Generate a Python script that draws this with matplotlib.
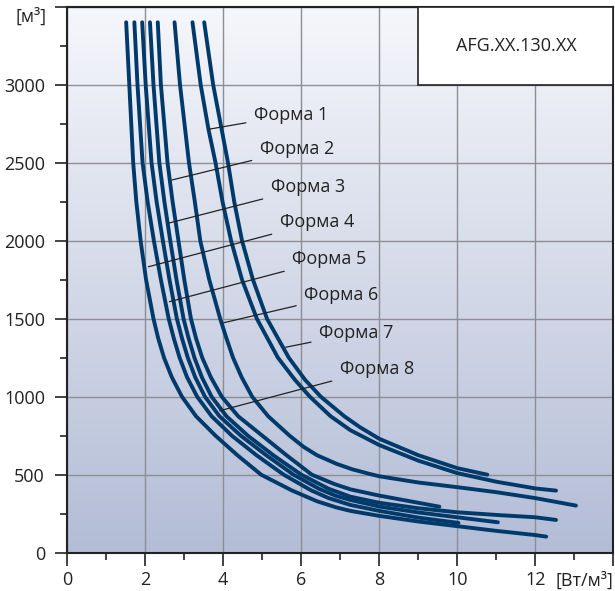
import numpy as np
import matplotlib
matplotlib.use('Agg')
import matplotlib.pyplot as plt
from matplotlib.ticker import MultipleLocator

plt.rcParams['font.family'] = ['Open Sans', 'DejaVu Sans']

# curves: x = [Вт/м3], y = [м3]
forma1_x = [3.21, 3.42, 3.62, 3.80, 3.98, 4.2, 4.48, 4.86, 5.4, 5.84, 6.22, 6.75, 7.26,
            8.0, 9.0, 10.0, 11.0, 12.0, 12.53]
forma1_y = [3400, 3000, 2714, 2500, 2250, 2000, 1750, 1500, 1250, 1107, 1000, 875, 785,
            690, 590, 510, 455, 412, 398]
forma2_x = [2.32, 2.40, 2.57, 2.70, 2.85, 3.0, 3.17, 3.30, 3.46, 3.68, 3.96, 4.38, 5.0,
            5.62, 6.27, 6.85, 7.26, 8.0, 9.0, 9.54]
forma2_y = [3400, 3000, 2500, 2250, 2000, 1750, 1500, 1375, 1250, 1125, 1000, 875, 750,
            625, 500, 440, 406, 366, 320, 295]
forma3_x = [2.12, 2.21, 2.36, 2.49, 2.64, 2.80, 2.98, 3.11, 3.26, 3.45, 3.70, 4.08, 4.63,
            5.28, 6.0, 6.7, 7.26, 8.0, 9.0, 10.0, 11.0, 12.0, 12.53]
forma3_y = [3400, 3000, 2500, 2250, 2000, 1750, 1500, 1375, 1250, 1125, 1000, 875, 750,
            625, 500, 410, 359, 320, 285, 259, 242, 227, 210]
forma4_x = [1.51, 1.59, 1.69, 1.77, 1.88, 2.02, 2.21, 2.33, 2.48, 2.68, 2.94, 3.3, 3.8,
            4.36, 4.97, 5.75, 6.4, 6.9, 7.26, 8.0, 9.0, 10.0, 11.0, 12.0, 12.28]
forma4_y = [3400, 3000, 2500, 2250, 2000, 1750, 1500, 1375, 1250, 1125, 1000, 875, 750,
            625, 500, 400, 330, 290, 268, 236, 200, 170, 140, 113, 103]
forma5_x = [1.72, 1.80, 1.93, 2.06, 2.22, 2.40, 2.60, 2.73, 2.88, 3.07, 3.33, 3.7, 4.22,
            4.85, 5.55, 6.25, 6.7, 7.26, 8.0, 9.0, 10.03]
forma5_y = [3400, 3000, 2500, 2250, 2000, 1750, 1500, 1375, 1250, 1125, 1000, 875, 750,
            625, 500, 400, 350, 306, 268, 225, 191]
forma6_x = [2.75, 2.89, 3.12, 3.27, 3.41, 3.64, 3.92, 4.08, 4.25, 4.47, 4.74, 5.15, 5.7,
            6.05, 6.4, 6.9, 7.3, 7.75, 8.0, 9.0, 10.0, 11.0, 12.0, 13.04]
forma6_y = [3400, 3000, 2500, 2250, 2000, 1750, 1500, 1375, 1250, 1125, 1000, 875, 750,
            680, 625, 570, 535, 505, 490, 450, 420, 388, 350, 302]
forma7_x = [3.51, 3.74, 4.12, 4.28, 4.48, 4.76, 5.12, 5.68, 6.1, 6.5, 7.1, 7.5, 8.0,
            9.0, 10.0, 10.77]
forma7_y = [3400, 3000, 2500, 2250, 2000, 1750, 1500, 1250, 1107, 1000, 875, 805, 730,
            625, 542, 500]
forma8_x = [1.92, 2.01, 2.16, 2.29, 2.45, 2.62, 2.81, 2.94, 3.09, 3.28, 3.53, 3.9, 4.45,
            5.1, 5.8, 6.45, 6.88, 7.26, 8.0, 9.0, 10.0, 11.04]
forma8_y = [3400, 3000, 2500, 2250, 2000, 1750, 1500, 1375, 1250, 1125, 1000, 875, 750,
            625, 500, 410, 365, 338, 296, 258, 227, 195]

curves = [(forma1_x, forma1_y), (forma2_x, forma2_y), (forma3_x, forma3_y),
          (forma4_x, forma4_y), (forma5_x, forma5_y), (forma6_x, forma6_y),
          (forma7_x, forma7_y), (forma8_x, forma8_y)]
labels = ['Форма 1', 'Форма 2', 'Форма 3', 'Форма 4',
          'Форма 5', 'Форма 6', 'Форма 7', 'Форма 8']

# where each leader touches its curve, and where the label sits
leader_xy = [(3.62, 2714), (2.68, 2389), (2.59, 2112), (2.08, 1833),
             (2.62, 1609), (4.01, 1474), (5.60, 1317), (3.91, 910)]
label_xy = [(4.79, 2806), (4.94, 2585), (5.22, 2342), (5.45, 2118),
            (5.77, 1881), (6.08, 1651), (6.46, 1408), (6.99, 1177)]

fig = plt.figure(figsize=(6.15, 5.91), dpi=100)
ax = fig.add_axes([0.1094, 0.0648, 0.8879, 0.9239])
ax.set_xlim(0, 14)
ax.set_ylim(0, 3500)

# background gradient
grad = np.linspace(0, 1, 256).reshape(-1, 1)
top = np.array([0.965, 0.968, 0.985])
bot = np.array([0.70, 0.74, 0.84])
img = top + (bot - top) * grad[:, :, None]
ax.imshow(img, extent=[0, 14, 0, 3500], origin='upper', aspect='auto', zorder=0)

ax.xaxis.set_major_locator(MultipleLocator(2))
ax.xaxis.set_minor_locator(MultipleLocator(1))
ax.yaxis.set_major_locator(MultipleLocator(500))
ax.yaxis.set_minor_locator(MultipleLocator(250))
ax.grid(True, which='major', color='#8c8e94', linewidth=1.0, zorder=1)
ax.set_axisbelow(True)

ax.tick_params(which='major', direction='out', length=9, width=1.2, color='#222222',
               labelsize=13, pad=4, labelcolor='#222222')
ax.tick_params(axis='y', which='major', pad=7)
ax.tick_params(which='minor', direction='out', length=5, width=1.2, color='#222222')
ax.set_xticks(range(0, 15, 2))
ax.set_xticklabels(['0', '2', '4', '6', '8', '10', '12', ''])
ax.set_yticks(range(0, 3501, 500))
ax.set_yticklabels(['0', '500', '1000', '1500', '2000', '2500', '3000', ''])
for s in ax.spines.values():
    s.set_linewidth(1.5)
    s.set_color('#222222')

for (xs, ys) in curves:
    ax.plot(xs, ys, color='#003a6b', linewidth=2.8, solid_capstyle='round',
            solid_joinstyle='round', zorder=3)

for lab, (cx, cy), (tx, ty) in zip(labels, leader_xy, label_xy):
    ax.annotate(lab, xy=(cx, cy), xytext=(tx, ty), fontsize=13, color='#222222',
                ha='left', va='center',
                arrowprops=dict(arrowstyle='-', color='#222222', linewidth=0.9,
                                shrinkA=4, shrinkB=0),
                zorder=4)

# title box
ax.add_patch(plt.Rectangle((9, 3000), 5, 500, facecolor='white', edgecolor='#222222',
                           linewidth=1.2, zorder=5))
ax.text(11.5, 3250, 'AFG.XX.130.XX', ha='center', va='center', fontsize=13,
        color='#222222', zorder=6)

# unit labels
ax.text(-0.037, 3437, '[м³]', transform=ax.get_yaxis_transform(), ha='right',
        va='center', fontsize=13, color='#222222')
ax.text(1.0, -0.052, '[Вт/м³]', transform=ax.transAxes, ha='right', va='center',
        fontsize=13, color='#222222')

fig.savefig('out.png', dpi=100)
